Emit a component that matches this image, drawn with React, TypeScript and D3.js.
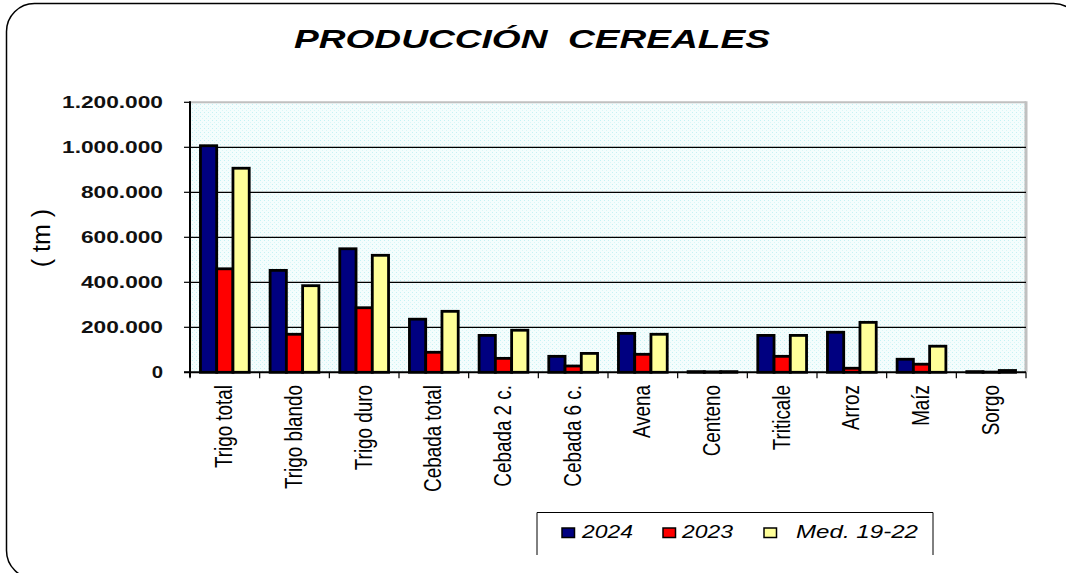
import React from "react";
import * as d3 from "d3";

const categories = ["Trigo total", "Trigo blando", "Trigo duro", "Cebada total", "Cebada 2 c.", "Cebada 6 c.", "Avena", "Centeno", "Triticale", "Arroz", "Maíz", "Sorgo"];
const series = ["2024", "2023", "Med. 19-22"];
const values2024 = [1007000, 453000, 549000, 236000, 164000, 71000, 173000, 3000, 164000, 178000, 58000, 3000];
const values2023 = [460000, 169000, 287000, 89000, 62000, 28000, 80000, 2000, 71000, 18000, 36000, 1000];
const valuesMed = [907000, 385000, 520000, 271000, 187000, 84000, 169000, 3000, 164000, 222000, 116000, 8000];
const yTicks = [0, 200000, 400000, 600000, 800000, 1000000, 1200000];
const colors = ["#000080", "#ff0000", "#ffff99"];

const FONT = "'Liberation Sans', Arial, sans-serif";

export default function App() {
  const W = 1066, H = 573;
  const left = 190, right = 1026, top = 102.3, bottom = 372.3;
  const x0 = d3.scaleBand<string>().domain(categories).range([left, right]).paddingInner(0.3).paddingOuter(0.15);
  const x1 = d3.scaleBand<string>().domain(series).range([0, x0.bandwidth()]).padding(0);
  const y = d3.scaleLinear().domain([0, 1200000]).range([bottom, top]);
  const fmt = (v: number) => d3.format(",")(v).replace(/,/g, ".");
  const data = [values2024, values2023, valuesMed];
  const step = x0.step();
  const boundaries = d3.range(categories.length + 1).map((i) => left + i * step);
  const legendX = [562, 663, 764];
  const legendTextX = [582, 682, 796];
  const legendTextLen = [51, 51, 122];

  return (
    <svg width={W} height={H} style={{ position: "absolute", left: 0, top: 0, background: "#fff" }}>
      <defs>
        <pattern id="dots" width="4" height="4" patternUnits="userSpaceOnUse">
          <rect width="4" height="4" fill="#f4fdfd" />
          <rect x="0" y="0" width="1" height="1" fill="#c4f2f4" />
          <rect x="2" y="2" width="1" height="1" fill="#d8f7f7" />
        </pattern>
      </defs>
      <rect x={6.5} y={3.5} width={1075} height={575} rx={28} fill="none" stroke="#000" strokeWidth={1.5} />

      <text x={532} y={47.5} textAnchor="middle" fontFamily={FONT} fontWeight="bold" fontStyle="italic" fontSize={26} textLength={476} lengthAdjust="spacingAndGlyphs">
        {"PRODUCCIÓN\u00A0 CEREALES"}
      </text>

      <rect x={left} y={top} width={right - left} height={bottom - top} fill="url(#dots)" />
      <line x1={left} x2={right} y1={top} y2={top} stroke="#c0c0c0" strokeWidth={2} />
      <line x1={right} x2={right} y1={top - 1} y2={bottom} stroke="#c0c0c0" strokeWidth={3} />

      {yTicks.filter((t) => t > 0 && t < 1200000).map((t) => (
        <line key={t} x1={left} x2={right} y1={y(t)} y2={y(t)} stroke="#000" strokeWidth={1.2} />
      ))}

      {categories.map((c, i) => (
        <g key={c}>
          {series.map((s, j) => {
            const v = data[j][i];
            const bx = (x0(c) as number) + (x1(s) as number);
            return (
              <rect key={s} x={bx} y={y(v)} width={x1.bandwidth()} height={bottom - y(v)} fill={colors[j]} stroke="#000" strokeWidth={2.8} />
            );
          })}
        </g>
      ))}

      <line x1={left} x2={left} y1={top - 1} y2={bottom + 5} stroke="#000" strokeWidth={2} />
      <line x1={left - 6} x2={right} y1={bottom} y2={bottom} stroke="#000" strokeWidth={2} />
      {yTicks.map((t) => (
        <line key={t} x1={left - 6} x2={left} y1={y(t)} y2={y(t)} stroke="#000" strokeWidth={1.2} />
      ))}
      {boundaries.map((bx, i) => (
        <line key={i} x1={bx} x2={bx} y1={bottom} y2={bottom + 6} stroke="#000" strokeWidth={1.2} />
      ))}

      {yTicks.map((t) => {
        const label = fmt(t);
        const len = label.length === 1 ? 11.3 : label.length === 7 ? 82 : 101;
        return (
          <text key={t} x={163} y={y(t)} dy="0.36em" textAnchor="end" fontFamily={FONT} fontWeight="bold" fontSize={16} fill="#111" textLength={len} lengthAdjust="spacingAndGlyphs">
            {label}
          </text>
        );
      })}

      <text transform={`translate(41,238) rotate(-90)`} textAnchor="middle" dy="0.35em" fontFamily={FONT} fontSize={25}>
        ( tm )
      </text>

      {categories.map((c) => {
        const cx = (x0(c) as number) + x0.bandwidth() / 2;
        return (
          <text key={c} transform={`translate(${cx},385) rotate(-90) scale(0.82,1)`} textAnchor="end" dy="0.33em" fontFamily={FONT} fontSize={23}>
            {c}
          </text>
        );
      })}

      <path d="M537,555 L537,512.5 L933,512.5 L933,555" fill="#fff" stroke="#000" strokeWidth={1} />
      {series.map((s, j) => (
        <g key={s}>
          <rect x={legendX[j]} y={528} width={12.5} height={9.5} fill={colors[j]} stroke="#000" strokeWidth={1.5} />
          <text x={legendTextX[j]} y={537.7} fontFamily={FONT} fontStyle="italic" fontSize={17.5} textLength={legendTextLen[j]} lengthAdjust="spacingAndGlyphs">
            {s}
          </text>
        </g>
      ))}
    </svg>
  );
}
